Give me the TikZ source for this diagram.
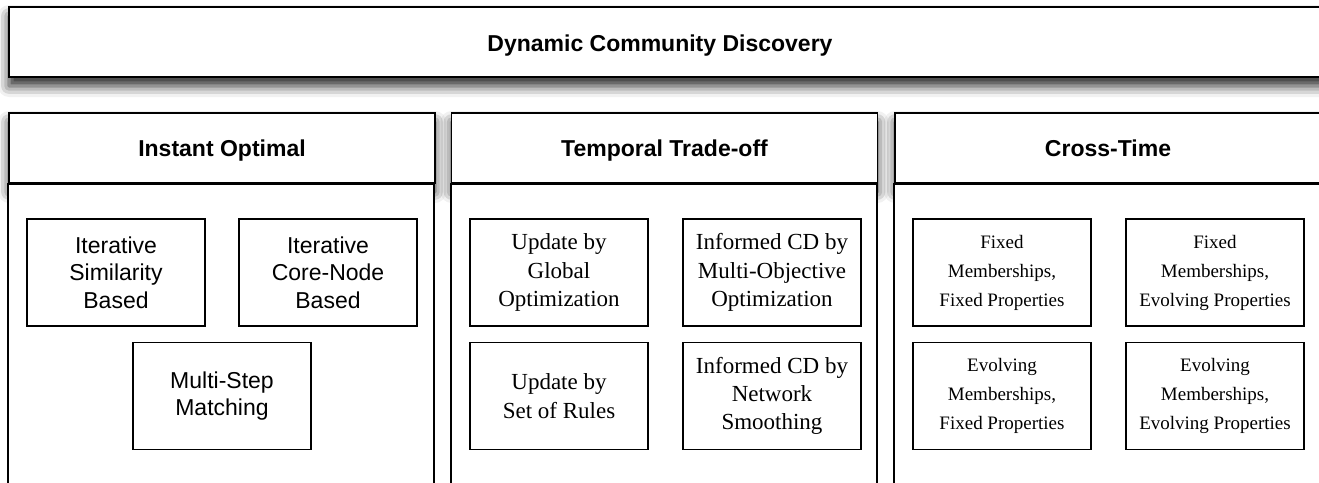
\documentclass[tikz,border=0pt]{standalone}
\usepackage{fontspec}
\setmainfont{Liberation Serif}
\newfontfamily\helvfont{Liberation Sans}
\usepackage{tikz}
\usetikzlibrary{shadows.blur}
\newcommand{\methodnode}[5]{ % Takes style, node name, x coord, y coord, node text as arguments
    \node [#1] (#2) at (#3, #4) {#5};
}
\tikzset{
    boxshadow/.style={blur shadow={shadow xshift=0pt, shadow yshift=-9pt, shadow blur radius=11pt, shadow opacity=85}},
    titlefont/.style={font=\helvfont\bfseries\fontsize{23}{27}\selectfont, text height=16pt, text depth=0pt},
    titlebox/.style={draw, line width=1.6pt, fill=white, boxshadow},
    headbox/.style={draw, line width=1.6pt, fill=white, minimum width=426pt, minimum height=70pt, boxshadow, titlefont},
    bodybox/.style={draw, line width=1.6pt, fill=white},
    methodbox/.style={draw, line width=1.3pt, fill=white, minimum width=178pt, minimum height=107pt, align=center, inner sep=2pt},
    sansmethod/.style={methodbox, font=\helvfont\fontsize{23}{27.5}\selectfont},
    serifmethod/.style={methodbox, font=\fontsize{23}{28.3}\selectfont},
    smallmethod/.style={methodbox, font=\fontsize{19}{29}\selectfont},
}

\begin{document}
\begin{tikzpicture}[x=1pt, y=-1pt]
                \useasboundingbox (0,0) rectangle (1319,482);

                % Top box
                \path[titlebox] (9,7) rectangle (1330,77);
                \node[titlefont] (dcd) at (660,43) {Dynamic Community Discovery};

                % Column headers
                \node[headbox] (io) at (222,148) {Instant Optimal};
                \node[headbox] (tt) at (664.5,148) {Temporal Trade-off};
                \node[headbox] (ct) at (1108,148) {Cross-Time};

                % Column bodies
                \foreach \col in {io, tt, ct}
                    \draw[bodybox] (\col.south west) rectangle ++(426,320);

                % Instant Optimal
                \methodnode{sansmethod}{ios}{116}{272.5}{Iterative\\Similarity\\Based}
                \methodnode{sansmethod}{ioc}{328}{272.5}{Iterative\\Core-Node\\Based}
                \methodnode{sansmethod}{iom}{222}{396}{Multi-Step\\Matching}

                % Temporal Trade-off
                \methodnode{serifmethod}{ttg}{559}{272.5}{Update by\\Global\\Optimization}
                \methodnode{serifmethod}{ttm}{772}{272.5}{Informed CD by\\Multi-Objective\\Optimization}
                \methodnode{serifmethod}{ttr}{559}{396}{Update by\\Set of Rules}
                \methodnode{serifmethod}{ttn}{772}{396}{Informed CD by\\Network\\Smoothing}

                % Cross-Time
                \methodnode{smallmethod}{ctff}{1002}{272.5}{Fixed\\Memberships,\\Fixed Properties}
                \methodnode{smallmethod}{ctfe}{1215}{272.5}{Fixed\\Memberships,\\Evolving Properties}
                \methodnode{smallmethod}{ctef}{1002}{396}{Evolving\\Memberships,\\Fixed Properties}
                \methodnode{smallmethod}{ctee}{1215}{396}{Evolving\\Memberships,\\Evolving Properties}
            \end{tikzpicture}
\end{document}
